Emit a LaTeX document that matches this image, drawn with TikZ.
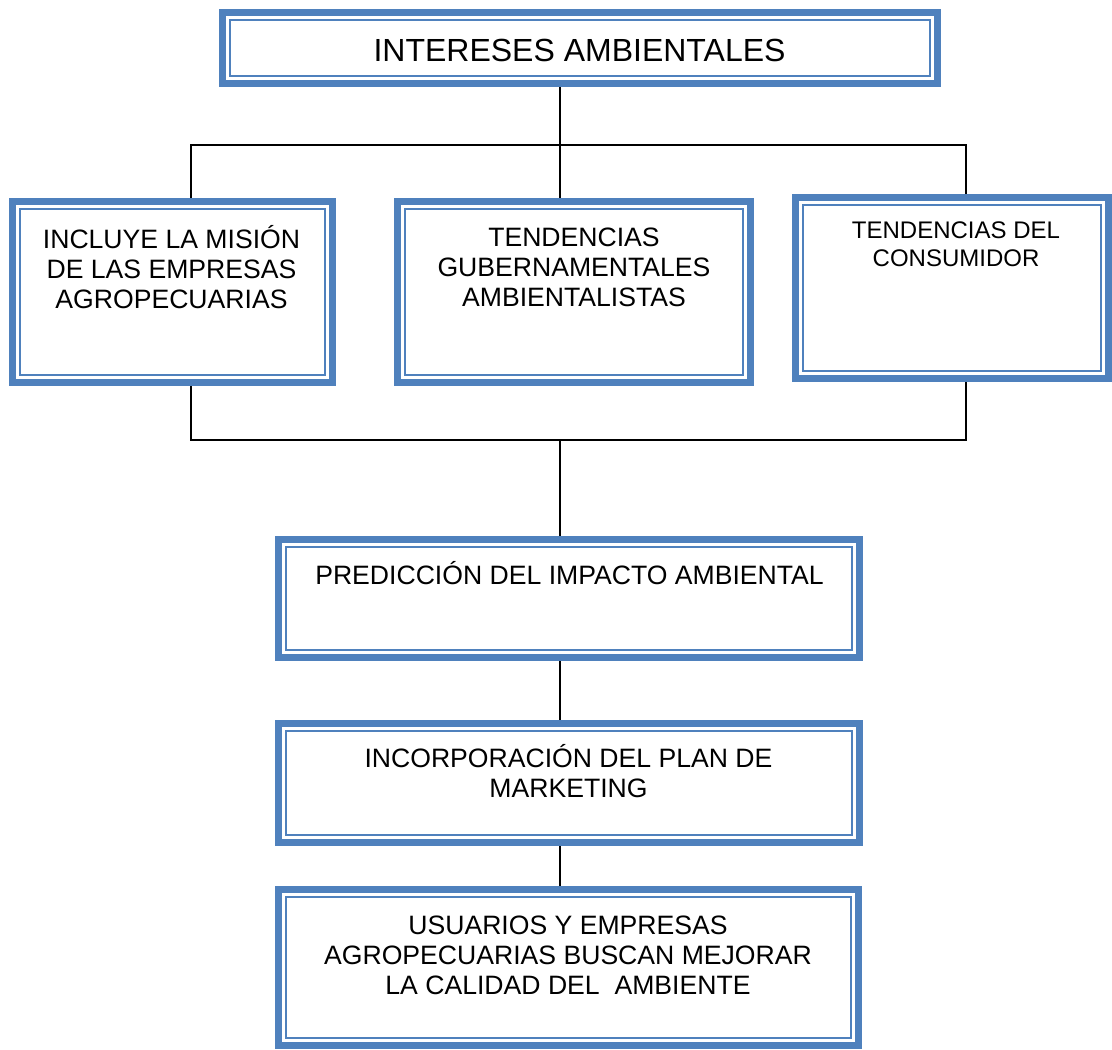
\documentclass[tikz,border=0pt]{standalone}
\usepackage{fontspec}
\setmainfont{Liberation Sans}
\usetikzlibrary{calc}
\definecolor{bxblue}{HTML}{4F81BD}
\begin{document}
\begin{tikzpicture}[x=1pt,y=-1pt,
  box/.style={draw=bxblue, line width=7pt, rectangle, inner sep=0pt},
  innerline/.style={draw=bxblue, line width=2pt},
  conn/.style={draw=black, line width=1.5pt},
  lbl/.style={anchor=base, align=center, inner sep=0pt, font=\fontsize{26.6}{30}\selectfont},
  lblsmall/.style={anchor=base, align=center, inner sep=0pt, font=\fontsize{24}{28}\selectfont},
  lblbig/.style={anchor=base, align=center, inner sep=0pt, font=\fontsize{32}{36}\selectfont}]
\useasboundingbox[fill=white] (0,0) rectangle (1112,1050);

% boxes
\node[box, minimum width=715pt, minimum height=71pt] (top) at (580,48) {};
\node[box, minimum width=320pt, minimum height=181pt] (b1) at (172.5,292) {};
\node[box, minimum width=353pt, minimum height=181pt] (b2) at (574,292) {};
\node[box, minimum width=313pt, minimum height=181pt] (b3) at (952,288) {};
\node[box, minimum width=581pt, minimum height=118pt] (b4) at (569,598.5) {};
\node[box, minimum width=581pt, minimum height=119pt] (b5) at (569,783) {};
\node[box, minimum width=580pt, minimum height=156pt] (b6) at (568.5,967.5) {};

% inner thin frame (anchors sit on the outer edge of the thick stroke)
\foreach \bx in {top,b1,b2,b3,b4,b5,b6}{
  \draw[innerline] ($(\bx.north west)+(10.6,10.6)$) rectangle ($(\bx.south east)+(-10.6,-10.6)$);
}

% texts
\node[lblbig] (t0) at (579.5,61.5) {INTERESES AMBIENTALES};
\node[lbl] (t1) at (171.5,308.5) {INCLUYE LA MISIÓN\\DE LAS EMPRESAS\\AGROPECUARIAS};
\node[lbl] (t2) at (574,306.5) {TENDENCIAS\\GUBERNAMENTALES\\AMBIENTALISTAS};
\node[lblsmall] (t3) at (956,266.6) {TENDENCIAS DEL\\CONSUMIDOR};
\node[lbl] (t4) at (569.5,584.5) {PREDICCIÓN DEL IMPACTO AMBIENTAL};
\node[lbl] (t5) at (568.5,797.5) {INCORPORACIÓN DEL PLAN DE\\MARKETING};
\node[lbl] (t6) at (568,994.5) {USUARIOS Y EMPRESAS\\AGROPECUARIAS BUSCAN MEJORAR\\LA CALIDAD DEL\ \ AMBIENTE};

% connector junctions
\coordinate (j1) at (560,145);
\coordinate (hl) at (191,145);
\coordinate (hr) at (966,145);
\coordinate (j2) at (560,440);
\coordinate (bl) at (191,440);
\coordinate (br) at (966,440);

\draw[conn] (j1 |- top.south) -- (j1);
\draw[conn] (b1.north -| hl) -- (hl) -- (hr) -- (b3.north -| hr);
\draw[conn] (j1) -- (b2.north -| j1);
\draw[conn] (b1.south -| bl) -- (bl) -- (br) -- (b3.south -| br);
\draw[conn] (j2) -- (b4.north -| j2);
\draw[conn] (b4.south -| j2) -- (b5.north -| j2);
\draw[conn] (b5.south -| j2) -- (b6.north -| j2);
\end{tikzpicture}
\end{document}
